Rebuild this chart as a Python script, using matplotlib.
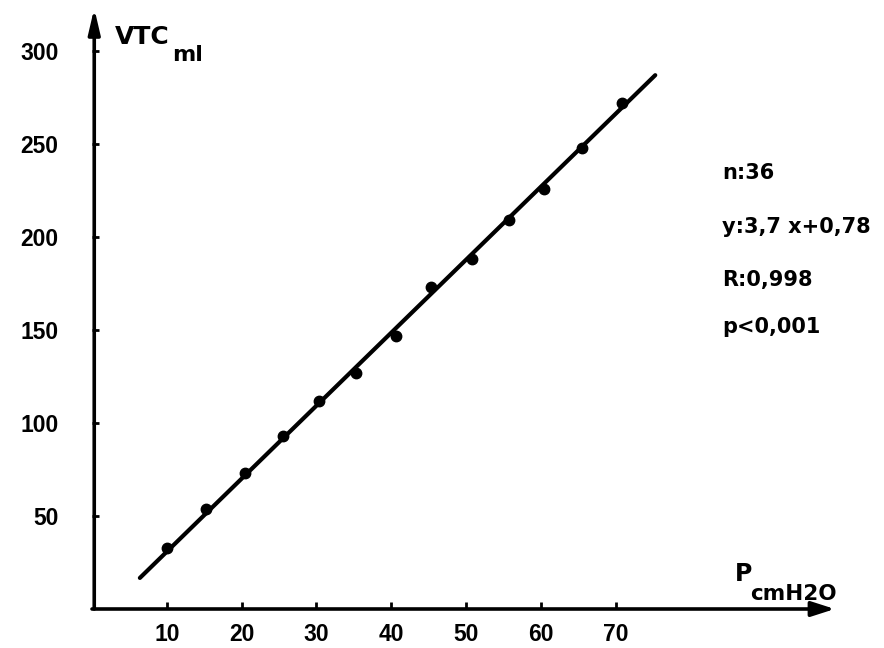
import numpy as np
import matplotlib.pyplot as plt

plt.rcParams['font.family'] = ['DejaVu Sans']
plt.rcParams['font.weight'] = 'bold'

# points
p_cm = [10, 15.3, 20.4, 25.5, 30.3, 35.3, 40.6, 45.3, 50.8, 55.7, 60.4, 65.5, 70.9]
vtc_ml = [33, 54, 73, 93, 112, 127, 147, 173, 188, 209, 226, 248, 272]

# regression line as drawn (endpoints)
line_x = [6.4, 75.3]
line_y = [16.7, 287]

xticks = [10, 20, 30, 40, 50, 60, 70]
yticks = [50, 100, 150, 200, 250, 300]

stats = ["n:36", "y:3,7 x+0,78", "R:0,998", "p<0,001"]

fig = plt.figure(figsize=(8.84, 6.48), dpi=100)
ax = fig.add_axes([92/884, 39/648, 748/884, 595.2/648])
ax.set_xlim(0, 100)
ax.set_ylim(0, 320)
for s in ax.spines.values():
    s.set_visible(False)

# axes with arrows
ax.annotate("", xy=(99.3, 0), xytext=(0, 0),
            arrowprops=dict(arrowstyle='-|>,head_length=1.4,head_width=0.45',
                            color='black', lw=2.6, shrinkA=0, shrinkB=0),
            annotation_clip=False)
ax.annotate("", xy=(0.3, 323), xytext=(0.3, 0),
            arrowprops=dict(arrowstyle='-|>,head_length=1.5,head_width=0.35',
                            color='black', lw=2.6, shrinkA=0, shrinkB=0),
            annotation_clip=False)

ax.plot(line_x, line_y, color='black', lw=3, solid_capstyle='round')
ax.plot(p_cm, vtc_ml, 'o', color='black', ms=7.5)

ax.set_xticks(xticks)
ax.set_yticks(yticks)
ax.tick_params(axis='x', direction='in', length=5, width=2, pad=10)
ax.tick_params(axis='y', direction='in', length=5, width=2, pad=24)
for lab in ax.get_xticklabels() + ax.get_yticklabels():
    lab.set_fontweight('bold')
    lab.set_fontfamily('Liberation Sans')
    lab.set_fontsize(16.5)

# axis labels
ax.text(3.1, 307.5, "VTC", fontsize=18, fontweight='bold', va='center', ha='left')
ax.text(10.7, 298, "ml", fontsize=16, fontweight='bold', va='center', ha='left')
ax.text(86.0, 18.8, "P", fontsize=17, fontweight='bold', va='center', ha='left')
ax.text(88.0, 7.8, "cmH2O", fontsize=15.5, fontweight='bold', va='center', ha='left')

stat_y = [234.4, 205.4, 176.9, 151.6]
for s, yy in zip(stats, stat_y):
    ax.text(84.2, yy, s, fontsize=15, fontweight='bold', va='center', ha='left')

fig.savefig("out.png", dpi=100)
